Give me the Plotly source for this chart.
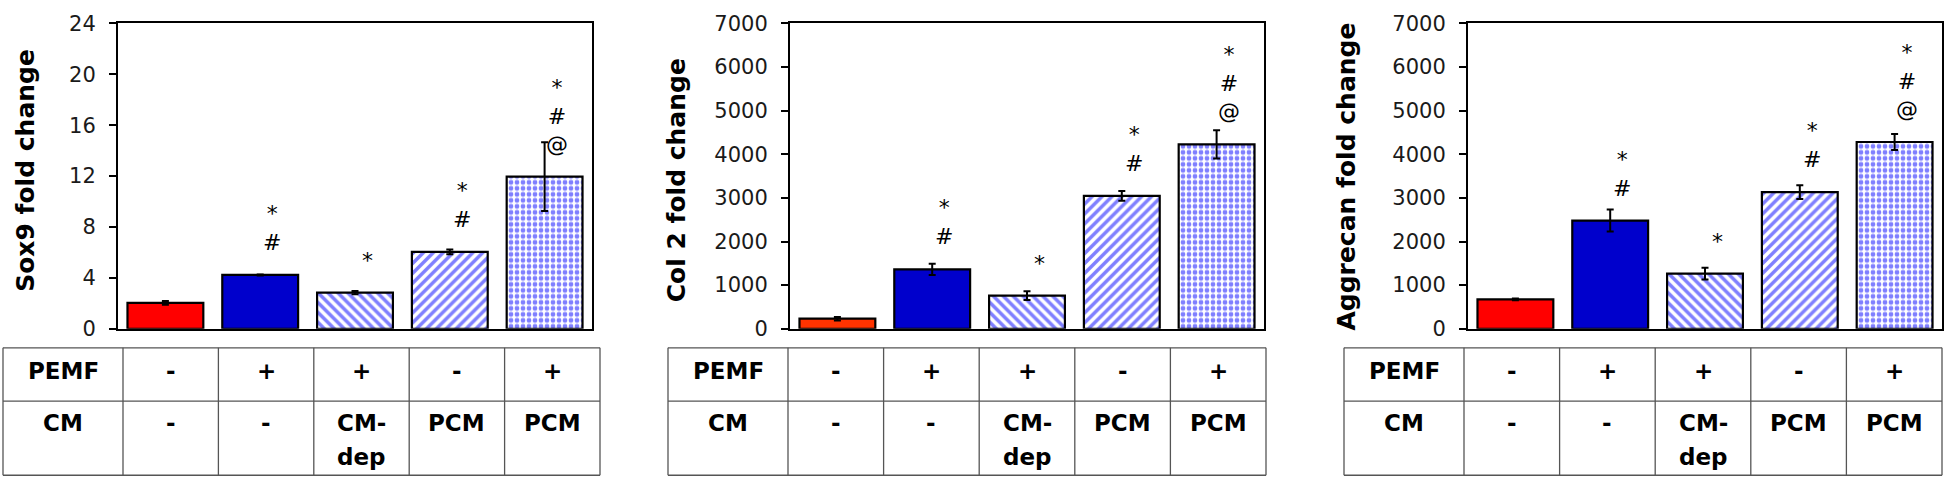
import plotly.graph_objects as go

# ---------------- data ----------------
groups = ["Control", "PEMF", "PEMF + CM-dep", "PCM", "PEMF + PCM"]

sox9 = [2.04, 4.23, 2.84, 6.04, 11.96]
sox9_err = [0.15, 0.04, 0.12, 0.18, 2.7]

col2 = [232, 1363, 761, 3046, 4228]
col2_err = [40, 130, 100, 110, 325]

aggrecan = [672, 2480, 1265, 3131, 4281]
aggrecan_err = [20, 253, 134, 159, 181]

sig_marks = ["", "*<br>#", "*", "*<br>#", "*<br>#<br>@"]

row_labels = ["PEMF", "CM"]
pemf_row = ["-", "+", "+", "-", "+"]
cm_row = ["-", "-", "CM-\ndep", "PCM", "PCM"]

y_titles = ["Sox9 fold change", "Col 2 fold change", "Aggrecan fold change"]
y_ranges = [[0, 24], [0, 7000], [0, 7000]]
y_dticks = [4, 1000, 1000]

# ---------------- styles ----------------
W, H = 1946, 492
FONT = "DejaVu Sans"
BLUE = "#0000CC"
HATCH = "#0000FF"
bar_styles = [
    dict(shape="", solid=True),
    dict(shape="", solid=True),
    dict(shape="\\", size=7, solidity=0.5),
    dict(shape="/", size=7, solidity=0.5),
    dict(shape=".", size=6, solidity=0.5),
]
panels = [
    dict(x0=118, x1=592, title_x=26, title_y=167, tbl=(3, 123, 600), red="#FF0000"),
    dict(x0=790, x1=1264, title_x=676, title_y=177, tbl=(668, 788, 1266), red="#FF3300"),
    dict(x0=1468, x1=1942, title_x=1347, title_y=173, tbl=(1344, 1464, 1942), red="#FF0000"),
]
plot_top, plot_bot = 12, 333
tbl_top, tbl_mid, tbl_bot = 353, 409, 487
row1_y, row2_y, row2_line = 377, 432, 36

px = lambda v: v / W
py = lambda v: 1 - v / H

series = [(sox9, sox9_err), (col2, col2_err), (aggrecan, aggrecan_err)]

fig = go.Figure()
shapes, annotations = [], []

for i, (p, (vals, errs)) in enumerate(zip(panels, series)):
    xa = "x" if i == 0 else f"x{i+1}"
    ya = "y" if i == 0 else f"y{i+1}"
    for k, (g, v, e) in enumerate(zip(groups, vals, errs)):
        st = bar_styles[k]
        if st.get("solid"):
            color = p["red"] if k == 0 else BLUE
            marker = dict(color=color, line=dict(color="black", width=2.2))
        else:
            marker = dict(color="white", line=dict(color="black", width=2.2),
                          pattern=dict(shape=st["shape"], fgcolor=HATCH, bgcolor="white",
                                       size=st["size"], solidity=st["solidity"]))
        fig.add_trace(go.Bar(
            x=[g], y=[v], xaxis=xa, yaxis=ya, width=0.8, marker=marker,
            error_y=dict(type="data", array=[e], color="black", thickness=2, width=3.5),
            showlegend=False, hoverinfo="skip",
        ))
    axkey = "xaxis" if i == 0 else f"xaxis{i+1}"
    aykey = "yaxis" if i == 0 else f"yaxis{i+1}"
    fig.update_layout(**{
        axkey: dict(domain=[px(p["x0"]), px(p["x1"])], anchor=ya, range=[-0.5, 4.5],
                    categoryorder="array", categoryarray=groups,
                    showline=True, linewidth=2, linecolor="black", mirror=True,
                    showticklabels=False, ticks="", showgrid=False, zeroline=False,
                    type="category"),
        aykey: dict(domain=[py(plot_bot), py(plot_top)], anchor=xa, range=y_ranges[i],
                    dtick=y_dticks[i], tick0=0,
                    showline=True, linewidth=2, linecolor="black", mirror=True,
                    ticks="outside", ticklen=7, tickwidth=1.5, tickcolor="black",
                    ticklabelstandoff=9,
                    tickfont=dict(family=FONT, size=21, color="#1a1a1a"),
                    showgrid=False, zeroline=False),
    })
    annotations.append(dict(xref="paper", yref="paper", x=px(p["title_x"]), y=py(p["title_y"]),
                            text=y_titles[i], textangle=-90, showarrow=False,
                            xanchor="center", yanchor="middle",
                            font=dict(family=FONT, size=25, color="black", weight="bold")))
    for g, v, s in zip(groups, vals, sig_marks):
        if s:
            annotations.append(dict(xref=xa, yref=ya, x=g, y=v, text=s, showarrow=False,
                                    xanchor="center", yanchor="bottom", xshift=12, yshift=18,
                                    font=dict(family=FONT, size=22, color="black")))
    left, first, right = p["tbl"]
    colw = (right - first) / len(groups)
    for yy in (tbl_top, tbl_mid, tbl_bot):
        shapes.append(dict(type="line", xref="paper", yref="paper", x0=px(left), x1=px(right),
                           y0=py(yy), y1=py(yy), line=dict(color="#555555", width=1.3)))
    xs = [left, first] + [first + colw * k for k in range(1, len(groups))] + [right]
    for xx in xs:
        shapes.append(dict(type="line", xref="paper", yref="paper", x0=px(xx), x1=px(xx),
                           y0=py(tbl_top), y1=py(tbl_bot), line=dict(color="#555555", width=1.3)))
    tfont = dict(family=FONT, size=23, color="black", weight="bold")
    cx_label = (left + first) / 2
    annotations.append(dict(xref="paper", yref="paper", x=px(cx_label), y=py(row1_y), text=row_labels[0],
                            showarrow=False, xanchor="center", yanchor="middle", font=tfont))
    annotations.append(dict(xref="paper", yref="paper", x=px(cx_label), y=py(row2_y), text=row_labels[1],
                            showarrow=False, xanchor="center", yanchor="middle", font=tfont))
    for k in range(len(groups)):
        cx = first + colw * (k + 0.5)
        annotations.append(dict(xref="paper", yref="paper", x=px(cx), y=py(row1_y), text=pemf_row[k],
                                showarrow=False, xanchor="center", yanchor="middle", font=tfont))
        for j, line in enumerate(cm_row[k].split("\n")):
            annotations.append(dict(xref="paper", yref="paper", x=px(cx), y=py(row2_y + j * row2_line),
                                    text=line, showarrow=False, xanchor="center", yanchor="middle",
                                    font=tfont))

fig.update_layout(width=W, height=H, margin=dict(l=0, r=0, t=0, b=0),
                  paper_bgcolor="white", plot_bgcolor="white", barmode="overlay",
                  shapes=shapes, annotations=annotations)

fig.write_html("out.html", config={"displayModeBar": False},
               post_script="document.body.style.margin='0';document.body.style.overflow='hidden';")
